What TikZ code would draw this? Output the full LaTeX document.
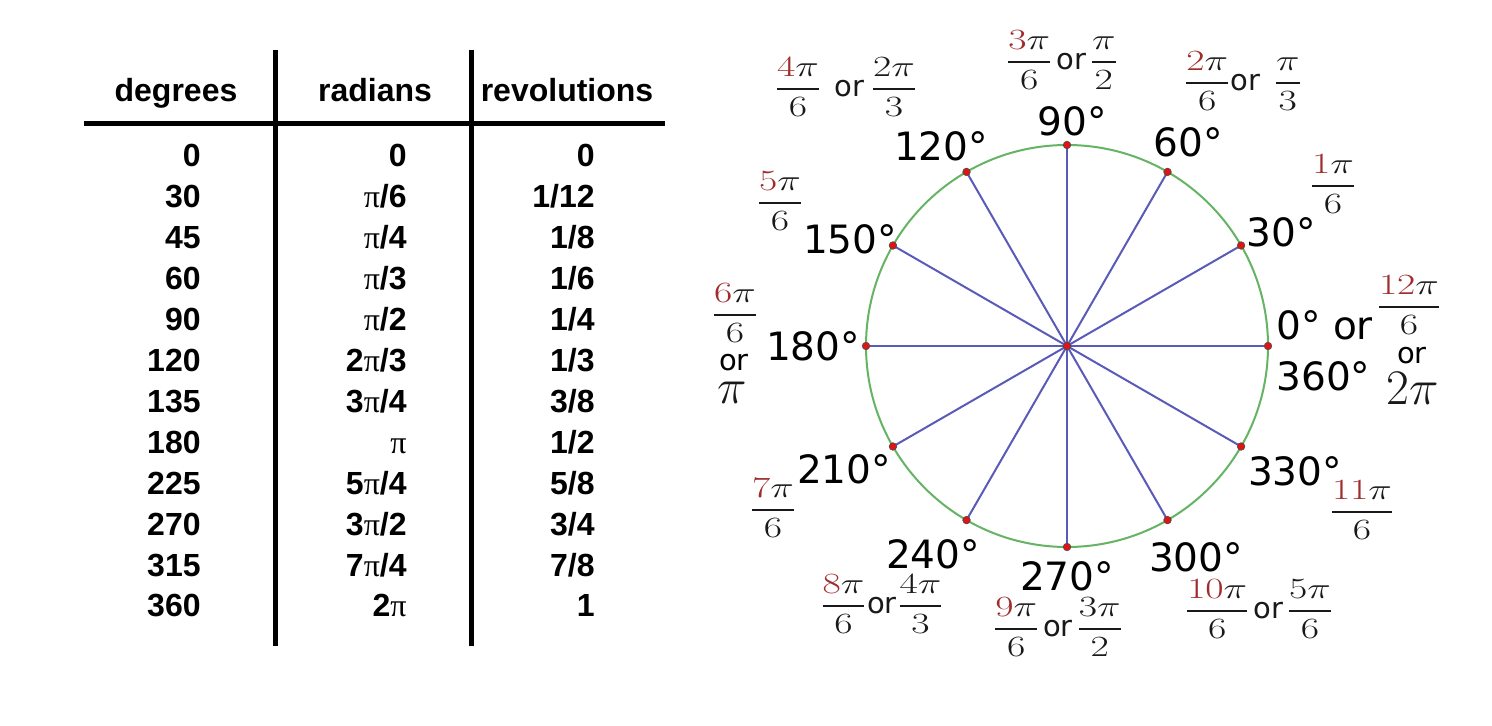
\documentclass[tikz,border=0pt]{standalone}
\usepackage[no-math]{fontspec}
\usepackage{amsmath}
\usepackage{graphicx}
\setmainfont{DejaVu Sans}
\newfontfamily\tabfont{Liberation Sans}
\newfontfamily\pifont{Liberation Serif}
\definecolor{fracred}{RGB}{160,45,45}
\definecolor{ringgreen}{RGB}{100,180,100}
\definecolor{spokeblue}{RGB}{90,90,185}
\definecolor{dotred}{RGB}{225,20,20}
\newcommand{\rd}[1]{\textcolor{fracred}{#1}}
\newcommand{\fr}[2]{\scalebox{1.15}[0.85]{\fontsize{16}{18}\selectfont$\displaystyle\frac{#1}{#2}$}}
\newcommand{\orw}{{\fontsize{14.5}{16}\selectfont or}}
\newcommand{\tpi}{{\pifont\mdseries π}}
\newcommand{\bigpi}[1]{{\fontsize{23}{25}\selectfont$#1$}}

\tikzset{
  tabtext/.style={font=\tabfont\bfseries\fontsize{16}{18}\selectfont, inner sep=0pt},
  deglabel/.style={font=\fontsize{19.5}{22}\selectfont, inner sep=0pt},
  orlabel/.style={font=\fontsize{14.5}{16}\selectfont, inner sep=0pt},
  radlabel/.style={inner sep=0pt, text=black!90},
  tabrule/.style={line width=2.5pt},
  spoke/.style={spokeblue, line width=1pt},
  vertex/.style={circle, fill=dotred, draw=black!70, line width=0.3pt, inner sep=0pt, minimum size=3.8pt},
}

\begin{document}
\begin{tikzpicture}[x=0.5pt, y=-0.5pt]
  \fill[white] (0,0) rectangle (1492,726);
  \useasboundingbox (0,0) rectangle (1492,726);

  % table
  \node[tabtext, anchor=base] (hdeg) at (176,102) {degrees};
  \node[tabtext, anchor=base] (hrad) at (375,102) {radians};
  \node[tabtext, anchor=base] (hrev) at (567,102) {revolutions};
  \draw[tabrule] (84,124) -- (665,124);
  \draw[tabrule] (275,50) -- (275,646);
  \draw[tabrule] (471,50) -- (471,646);
  \foreach \dg/\rn/\rv [count=\i from 0] in {0/0/0, 30/{\tpi/6}/{1/12}, 45/{\tpi/4}/{1/8},
      60/{\tpi/3}/{1/6}, 90/{\tpi/2}/{1/4}, 120/{2\tpi/3}/{1/3}, 135/{3\tpi/4}/{3/8},
      180/{\tpi}/{1/2}, 225/{5\tpi/4}/{5/8}, 270/{3\tpi/2}/{3/4}, 315/{7\tpi/4}/{7/8},
      360/{2\tpi}/1} {
    \node[tabtext, anchor=base east] (deg\i) at (201,167+40.9*\i) {\dg};
    \node[tabtext, anchor=base east] (rad\i) at (407,167+40.9*\i) {\rn};
    \node[tabtext, anchor=base east] (rev\i) at (595,167+40.9*\i) {\rv};
  }

  % unit circle
  \coordinate (O) at (1067,346);
  \foreach \a in {0,30,...,330}
    \coordinate (p\a) at ({1067+201*cos(\a)},{346-201*sin(\a)});
  \foreach \a in {0,30,...,330}
    \draw[spoke] (O) -- (p\a);
  \draw[ringgreen, line width=1pt] (O) circle[radius=201];
  \foreach \a in {0,30,...,330}
    \node[vertex] at (p\a) {};
  \node[vertex] at (O) {};

  % degree labels
  \node[deglabel] (l90) at (1072,121) {90°};
  \node[deglabel] (l60) at (1188,142) {60°};
  \node[deglabel, anchor=west] (l30) at (1246,232) {30°};
  \node[deglabel, anchor=west] (l0) at (1276,325) {0° or};
  \node[deglabel, anchor=west] (l360) at (1276,376) {360°};
  \node[deglabel] (l330) at (1295,471) {330°};
  \node[deglabel] (l300) at (1196,557) {300°};
  \node[deglabel] (l270) at (1067,576) {270°};
  \node[deglabel] (l240) at (933,554) {240°};
  \node[deglabel] (l210) at (844,469) {210°};
  \node[deglabel] (l180) at (813,346) {180°};
  \node[deglabel] (l150) at (850,239) {150°};
  \node[deglabel] (l120) at (941,146) {120°};

  % radian labels
  \node[radlabel] (f0) at (1409,305) {\fr{\rd{12}\pi}{6}};
  \node[orlabel] (or0) at (1412,356) {or};
  \node[radlabel] (pi0) at (1413,388) {\bigpi{2\pi}};
  \node[radlabel] (f30) at (1333,184) {\fr{\rd{1}\pi}{6}};
  \node[radlabel] (f60) at (1243,81) {\fr{\rd{2}\pi}{6}\orw\ \ \fr{\pi}{3}};
  \node[radlabel] (f90) at (1062,60) {\fr{\rd{3}\pi}{6}\,\orw\,\fr{\pi}{2}};
  \node[radlabel] (f120) at (846,87) {\fr{\rd{4}\pi}{6}\ \ \orw\ \fr{2\pi}{3}};
  \node[radlabel] (f150) at (780,201) {\fr{\rd{5}\pi}{6}};
  \node[radlabel] (f180) at (735,313) {\fr{\rd{6}\pi}{6}};
  \node[orlabel] (or180) at (734,363) {or};
  \node[radlabel] (pi180) at (732,393) {\bigpi{\pi}};
  \node[radlabel] (f210) at (773,508) {\fr{\rd{7}\pi}{6}};
  \node[radlabel] (f240) at (882,604) {\fr{\rd{8}\pi}{6}\orw\fr{4\pi}{3}};
  \node[radlabel] (f270) at (1058,627) {\fr{\rd{9}\pi}{6}\,\orw\,\fr{3\pi}{2}};
  \node[radlabel] (f300) at (1259,609) {\fr{\rd{10}\pi}{6}\,\orw\,\fr{5\pi}{6}};
  \node[radlabel] (f330) at (1362,510) {\fr{\rd{11}\pi}{6}};
\end{tikzpicture}
\end{document}
